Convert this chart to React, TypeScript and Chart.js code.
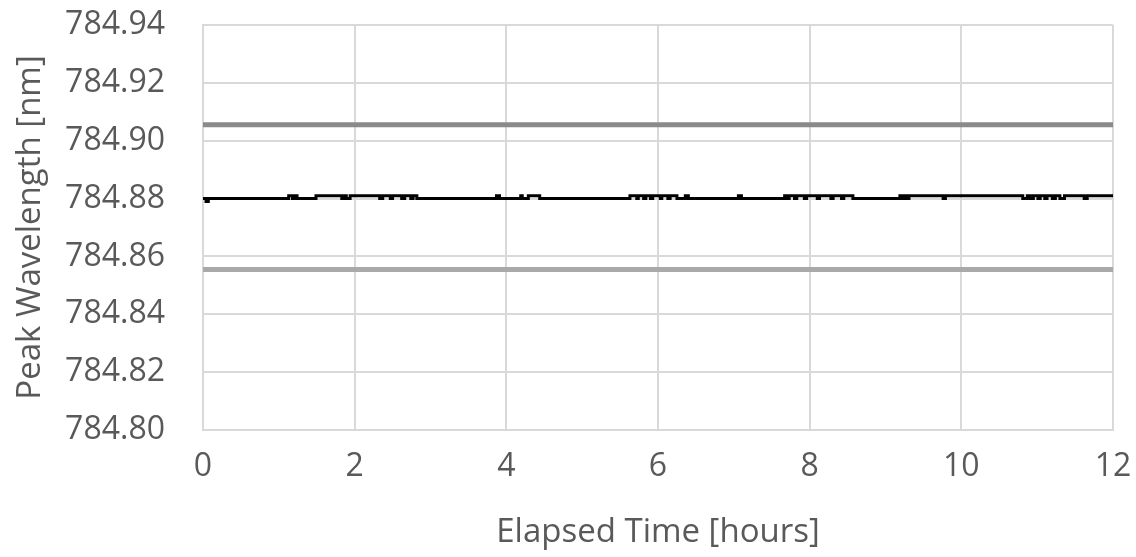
import React, { useEffect, useRef } from "react";
import { Chart, registerables } from "chart.js";

Chart.register(...registerables);

// Elapsed time [hours] at which the measured peak wavelength changes, and the value held from that time
const peakTimes = [
  0, 0.04, 0.07, 1.13, 1.18, 1.2, 1.24, 1.49, 1.83, 1.87, 1.89, 1.94, 2.33, 2.37, 2.47, 2.5, 2.62, 2.66,
  2.74, 2.77, 2.82, 3.87, 3.91, 4.19, 4.21, 4.29, 4.44, 5.63, 5.72, 5.74, 5.81, 5.84, 5.9, 5.93, 6.03,
  6.05, 6.13, 6.16, 6.25, 6.36, 6.4, 7.06, 7.1, 7.67, 7.7, 7.73, 7.8, 7.83, 7.93, 7.96, 8.1, 8.13, 8.28,
  8.31, 8.42, 8.45, 8.57, 9.19, 9.22, 9.25, 9.28, 9.31, 9.76, 9.79, 10.81, 10.87, 10.91, 10.95, 11.01,
  11.04, 11.1, 11.13, 11.2, 11.24, 11.3, 11.36, 11.62, 11.66, 12,
];
const peakValues = [
  784.88, 784.879, 784.88, 784.881, 784.88, 784.881, 784.88, 784.881, 784.88, 784.881, 784.88, 784.881,
  784.88, 784.881, 784.88, 784.881, 784.88, 784.881, 784.88, 784.881, 784.88, 784.881, 784.88, 784.881,
  784.88, 784.881, 784.88, 784.881, 784.88, 784.881, 784.88, 784.881, 784.88, 784.881, 784.88, 784.881,
  784.88, 784.881, 784.88, 784.881, 784.88, 784.881, 784.88, 784.881, 784.88, 784.881, 784.88, 784.881,
  784.88, 784.881, 784.88, 784.881, 784.88, 784.881, 784.88, 784.881, 784.88, 784.881, 784.88, 784.881,
  784.88, 784.881, 784.88, 784.881, 784.88, 784.881, 784.88, 784.881, 784.88, 784.881, 784.88, 784.881,
  784.88, 784.881, 784.88, 784.881, 784.88, 784.881, 784.881,
];

// Upper / lower limit lines
const limitTimes = [0, 12];
const upperLimit = [784.9055, 784.9055];
const lowerLimit = [784.8555, 784.8555];

const xTicks = [0, 2, 4, 6, 8, 10, 12];
const yMin = 784.8;
const yMax = 784.94;
const yStep = 0.02;

const TEXT = "#595959";
const GRID = "#d9d9d9";
const FONT = "'Open Sans', sans-serif";

const zeroPad = (s: any) => {
  s.paddingTop = 0;
  s.paddingBottom = 0;
  s.paddingLeft = 0;
  s.paddingRight = 0;
};

export default function App() {
  const ref = useRef<HTMLCanvasElement | null>(null);

  useEffect(() => {
    document.body.style.margin = "0";
    const canvas = ref.current;
    if (!canvas) return;
    const chart = new Chart(canvas, {
      type: "line",
      data: {
        datasets: [
          {
            label: "Peak",
            data: peakTimes.map((t, i) => ({ x: t, y: peakValues[i] })),
            borderColor: "#000000",
            borderWidth: 3,
            pointRadius: 0,
            stepped: "before",
            fill: false,
          },
          {
            label: "Upper",
            data: limitTimes.map((t, i) => ({ x: t, y: upperLimit[i] })),
            borderColor: "#8a8a8a",
            borderWidth: 5,
            pointRadius: 0,
            fill: false,
          },
          {
            label: "Lower",
            data: limitTimes.map((t, i) => ({ x: t, y: lowerLimit[i] })),
            borderColor: "#a9a9a9",
            borderWidth: 5,
            pointRadius: 0,
            fill: false,
          },
        ],
      },
      options: {
        responsive: false,
        animation: false,
        layout: { padding: { top: 25, right: 23, left: 0, bottom: 0 } },
        plugins: { legend: { display: false }, tooltip: { enabled: false } },
        scales: {
          x: {
            type: "linear",
            min: 0,
            max: 12,
            afterBuildTicks: (s: any) => {
              s.ticks = xTicks.map((v) => ({ value: v }));
            },
            ticks: {
              font: { family: FONT, size: 32 },
              color: TEXT,
              padding: 18,
              maxRotation: 0,
            },
            grid: { color: GRID, lineWidth: 2, drawTicks: false },
            border: { display: true, color: GRID, width: 2 },
            title: {
              display: true,
              text: "Elapsed Time [hours]",
              font: { family: FONT, size: 33 },
              color: TEXT,
              padding: { top: 0, bottom: 5 },
            },
            afterFit: (s: any) => {
              s.height = 127;
              zeroPad(s);
            },
          },
          y: {
            type: "linear",
            min: yMin,
            max: yMax,
            ticks: {
              stepSize: yStep,
              font: { family: FONT, size: 32 },
              color: TEXT,
              padding: 38,
              callback: (v: any) => Number(v).toFixed(2),
            },
            grid: { color: GRID, lineWidth: 2, drawTicks: false },
            border: { display: true, color: GRID, width: 2 },
            title: {
              display: true,
              text: "Peak Wavelength [nm]",
              font: { family: FONT, size: 33 },
              color: TEXT,
              padding: { top: 11, bottom: 0 },
            },
            afterFit: (s: any) => {
              s.width = 203;
              zeroPad(s);
            },
          },
        },
      },
    });
    return () => chart.destroy();
  }, []);

  return (
    <div style={{ width: 1136, height: 557 }}>
      <canvas ref={ref} width={1136} height={557} />
    </div>
  );
}
